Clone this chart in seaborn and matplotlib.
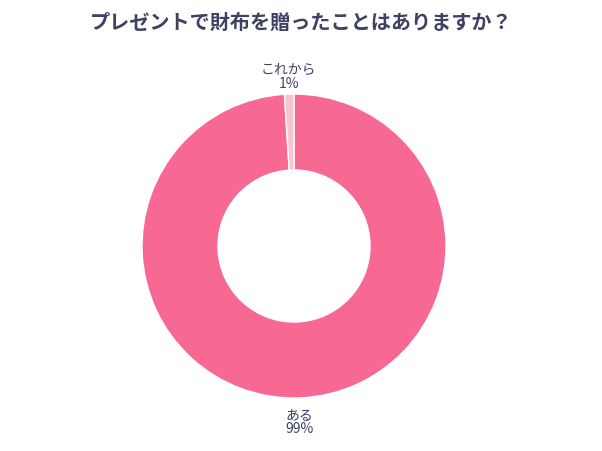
import numpy as np
import matplotlib.pyplot as plt
import seaborn as sns

sns.set_theme(style="white")
plt.rcParams['font.family'] = ['Noto Sans CJK JP', 'DejaVu Sans']

# Data
labels = ['ある', 'これから']
values = [99, 1]
colors = ['#f76895', '#f9c3d3']
text_color = '#3e4163'

fig = plt.figure(figsize=(6.02, 4.51), dpi=100)
# axes placed so the donut centre sits near (294, 246) px
ax = fig.add_axes([(294 - 152) / 602, (451 - 246 - 152) / 451, 304 / 602, 304 / 451])

wedges, _ = ax.pie(values, colors=colors, startangle=90, counterclock=False,
                   wedgeprops=dict(width=0.5, edgecolor='white', linewidth=1))
ax.set_xlim(-1, 1)
ax.set_ylim(-1, 1)
ax.set_aspect('equal')

# Outer labels
for w, lab, v in zip(wedges, labels, values):
    ang = np.deg2rad((w.theta1 + w.theta2) / 2)
    r = 1.11 if np.sin(ang) > 0 else 1.16
    ax.text(r * np.cos(ang), r * np.sin(ang), f'{lab}\n{v}%', ha='center', va='center',
            fontsize=10, color=text_color, linespacing=1.0, clip_on=False)

fig.text(0.5, 1 - 22 / 451, 'プレゼントで財布を贈ったことはありますか？', ha='center', va='center',
         fontsize=14.5, fontweight='bold', color=text_color)

fig.savefig('out.png', dpi=100)
